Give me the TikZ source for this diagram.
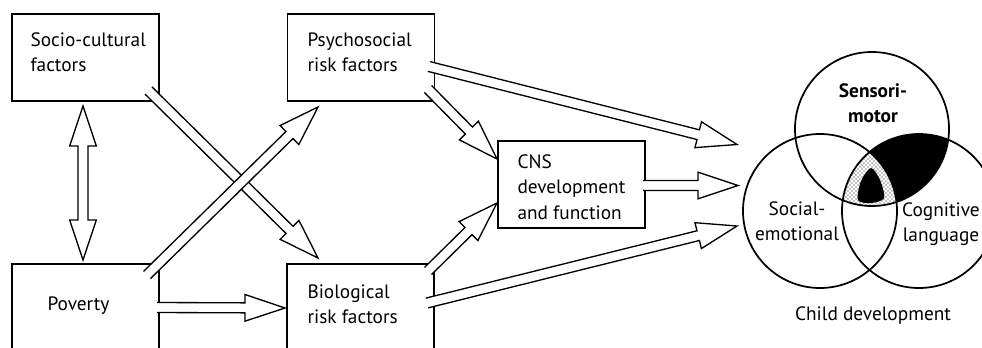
\documentclass[tikz,border=0pt]{standalone}
\usepackage{fontspec}
\setmainfont{PT Sans}
\usetikzlibrary{calc,patterns}

\tikzset{every picture/.style={line width=0.75pt}}
\tikzset{
  factorbox/.style={draw, line width=1.2pt, minimum width=110.25pt, minimum height=65.25pt, inner sep=0pt},
  tallbox/.style={factorbox, minimum height=82.5pt},
  boxtext/.style={anchor=west, align=left, inner sep=0pt, font=\fontsize{14.5}{19}\selectfont},
  venntext/.style={align=center, inner sep=0pt, font=\fontsize{14.5}{19}\selectfont},
  hollow/.style={draw, fill=white, line width=1pt, line join=miter},
  venn/.style={line width=1.3pt}
}
\newcommand{\shaftw}{3.75pt}
\newcommand{\headw}{10pt}
\newcommand{\headl}{30pt}
% hollow arrow, tail left open
\newcommand{\hollowarrow}[2]{%
  \path[hollow] ($(#1)!\shaftw!90:(#2)$)
    -- ($(#2)!\headl!(#1)!\shaftw!90:(#2)$)
    -- ($(#2)!\headl!(#1)!\headw!90:(#2)$)
    -- (#2)
    -- ($(#2)!\headl!(#1)!\headw!-90:(#2)$)
    -- ($(#2)!\headl!(#1)!\shaftw!-90:(#2)$)
    -- ($(#1)!\shaftw!-90:(#2)$);}
% hollow arrow with two heads
\newcommand{\hollowdarrow}[2]{%
  \path[hollow] (#1)
    -- ($(#1)!\headl!(#2)!\headw!90:(#2)$)
    -- ($(#1)!\headl!(#2)!\shaftw!90:(#2)$)
    -- ($(#2)!\headl!(#1)!\shaftw!90:(#2)$)
    -- ($(#2)!\headl!(#1)!\headw!90:(#2)$)
    -- (#2)
    -- ($(#2)!\headl!(#1)!\headw!-90:(#2)$)
    -- ($(#2)!\headl!(#1)!\shaftw!-90:(#2)$)
    -- ($(#1)!\headl!(#2)!\shaftw!-90:(#2)$)
    -- ($(#1)!\headl!(#2)!\headw!-90:(#2)$)
    -- cycle;}

\begin{document}
\begin{tikzpicture}[x=0.75pt,y=0.75pt,yscale=-1,xscale=1]
\useasboundingbox (0,0) rectangle (982,347);
\clip (0,0) rectangle (982,347);

% Boxes
\node[factorbox] (socio) at (85.5,57.5) {};
\node[factorbox] (psycho) at (361,57.5) {};
\node[tallbox] (poverty) at (85.5,319) {};
\node[tallbox] (bio) at (360.5,319) {};
\node[factorbox] (cns) at (571.5,184.5) {};

% Arrow ends
\coordinate (sc-a) at (83,106);
\coordinate (pv-a) at (83,260);
\coordinate (sc-out) at (148.5,90.5);
\coordinate (bio-in) at (318,258);
\coordinate (pv-out) at (147,275);
\coordinate (ps-in) at (318,107);
\coordinate (pv-out2) at (157,307.5);
\coordinate (bio-in2) at (285,308);
\coordinate (ps-out) at (428,89);
\coordinate (cns-in) at (497,159);
\coordinate (bio-out) at (428,271);
\coordinate (cns-in2) at (497,203);
\coordinate (ps-out2) at (429,66.5);
\coordinate (venn-in1) at (737,144.5);
\coordinate (cns-out) at (643,185.5);
\coordinate (venn-in2) at (738,185.5);
\coordinate (bio-out2) at (427,303);
\coordinate (venn-in3) at (737,226);

% Arrows
\hollowdarrow{sc-a}{pv-a}
\hollowarrow{sc-out}{bio-in}
\hollowarrow{pv-out}{ps-in}
\hollowarrow{pv-out2}{bio-in2}
\hollowarrow{ps-out}{cns-in}
\hollowarrow{bio-out}{cns-in2}
\hollowarrow{ps-out2}{venn-in1}
\hollowarrow{cns-out}{venn-in2}
\hollowarrow{bio-out2}{venn-in3}

% Venn diagram
\coordinate (sm) at (872,129);
\coordinate (se) at (820,211);
\coordinate (cl) at (919,211);
\begin{scope}
  \clip (sm) circle (77);
  \clip (cl) circle (77);
  \fill[black] (sm) circle (77);
  \clip (se) circle (77);
  \fill[white] (sm) circle (77);
  \fill[pattern=crosshatch dots] (sm) circle (77);
  \fill[black] plot[smooth cycle] coordinates {(871,168) (880,180) (884,198) (871,203) (858,200) (861,181)};
\end{scope}
\draw[venn] (sm) circle (77);
\draw[venn] (se) circle (77);
\draw[venn] (cl) circle (77);

% Text Node
\node[boxtext] (socio-t) at (30,52) {Socio-cultural\\factors};
\node[boxtext] (psycho-t) at (307,52) {Psychosocial\\risk factors};
\node[boxtext] (poverty-t) at (47,306) {Poverty};
\node[boxtext] (bio-t) at (307,304) {Biological\\risk factors};
\node[boxtext] (cns-t) at (517,187) {CNS\\development\\and function};
\node[venntext, font=\fontsize{14.5}{19}\selectfont\bfseries] (sensori-t) at (873,103) {Sensori-\\motor};
\node[venntext] (social-t) at (797,221) {Social-\\emotional};
\node[venntext] (cogn-t) at (941,224) {Cognitive\\language};
\node[venntext] (child-t) at (873,316) {Child development};

\end{tikzpicture}
\end{document}
